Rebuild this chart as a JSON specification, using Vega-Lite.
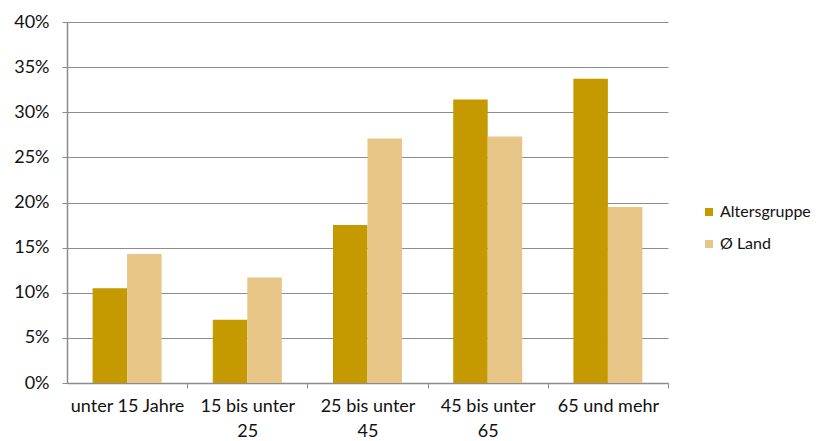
{
  "$schema": "https://vega.github.io/schema/vega-lite/v6.json",
  "autosize": "none",
  "width": 601,
  "height": 361,
  "padding": {"left": 67, "top": 22, "right": 148, "bottom": 58},
  "background": "white",
  "config": {
    "font": "Lato",
    "view": {"stroke": null},
    "scale": {"offsetBandPaddingInner": 0, "offsetBandPaddingOuter": 0.742},
    "axis": {
      "labelFont": "Lato",
      "labelFontSize": 18,
      "labelColor": "#111111",
      "domainColor": "#8c8c8c",
      "tickColor": "#8c8c8c",
      "gridColor": "#8c8c8c",
      "tickSize": 5
    },
    "legend": {
      "labelFont": "Lato",
      "labelFontSize": 16,
      "labelColor": "#111111"
    }
  },
  "data": {
    "values": [
      {"gruppe": "unter 15 Jahre", "serie": "Altersgruppe", "wert": 0.105},
      {"gruppe": "unter 15 Jahre", "serie": "Ø Land", "wert": 0.143},
      {"gruppe": "15 bis unter 25", "serie": "Altersgruppe", "wert": 0.07},
      {"gruppe": "15 bis unter 25", "serie": "Ø Land", "wert": 0.117},
      {"gruppe": "25 bis unter 45", "serie": "Altersgruppe", "wert": 0.175},
      {"gruppe": "25 bis unter 45", "serie": "Ø Land", "wert": 0.271},
      {"gruppe": "45 bis unter 65", "serie": "Altersgruppe", "wert": 0.314},
      {"gruppe": "45 bis unter 65", "serie": "Ø Land", "wert": 0.273},
      {"gruppe": "65 und mehr", "serie": "Altersgruppe", "wert": 0.337},
      {"gruppe": "65 und mehr", "serie": "Ø Land", "wert": 0.195}
    ]
  },
  "mark": {"type": "bar"},
  "encoding": {
    "x": {
      "field": "gruppe",
      "type": "nominal",
      "sort": ["unter 15 Jahre", "15 bis unter 25", "25 bis unter 45", "45 bis unter 65", "65 und mehr"],
      "scale": {"paddingInner": 0, "paddingOuter": 0},
      "axis": {
        "title": null,
        "labelAngle": 0,
        "tickOffset": 60,
        "labelOffset": -60,
        "domainWidth": 1.5,
        "labelPadding": 9,
        "labelLineHeight": 25,
        "labelExpr": "indexof(datum.value, ' bis unter ') > 0 ? [slice(datum.value, 0, indexof(datum.value, ' bis unter ') + 10), slice(datum.value, indexof(datum.value, ' bis unter ') + 11)] : datum.value"
      }
    },
    "xOffset": {
      "field": "serie",
      "type": "nominal",
      "sort": ["Altersgruppe", "Ø Land"]
    },
    "y": {
      "field": "wert",
      "type": "quantitative",
      "scale": {"domain": [0, 0.4], "nice": false},
      "axis": {
        "title": null,
        "values": [0, 0.05, 0.1, 0.15, 0.2, 0.25, 0.3, 0.35, 0.4],
        "format": ".0%",
        "grid": true,
        "labelPadding": 13,
        "domainWidth": 1.5
      }
    },
    "color": {
      "field": "serie",
      "type": "nominal",
      "scale": {"domain": ["Altersgruppe", "Ø Land"], "range": ["#C49A00", "#E6C586"]},
      "legend": {
        "title": null,
        "orient": "none",
        "legendX": 634,
        "legendY": 182,
        "symbolType": "square",
        "symbolSize": 64,
        "rowPadding": 16,
        "labelOffset": 3
      }
    }
  }
}
